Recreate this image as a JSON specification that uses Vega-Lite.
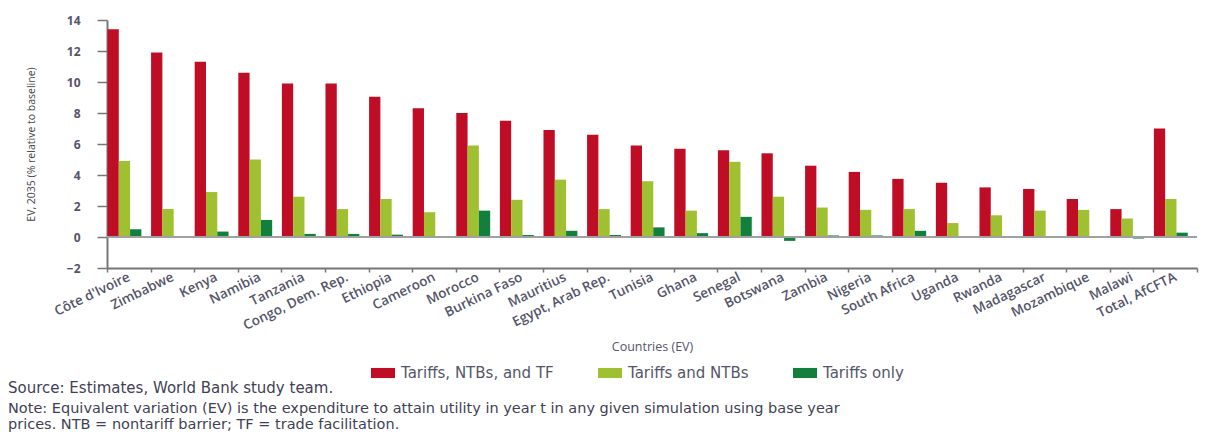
{
  "$schema": "https://vega.github.io/schema/vega-lite/v6.json",
  "width": 1090,
  "height": 248,
  "autosize": {"type": "none"},
  "padding": {"left": 107, "top": 20, "right": 8, "bottom": 169},
  "background": "white",
  "config": {"view": {"stroke": null}, "font": "Open Sans"},
  "title": {
    "text": "Source: Estimates, World Bank study team.",
    "subtitle": ["Note: Equivalent variation (EV) is the expenditure to attain utility in year t in any given simulation using base year", "prices. NTB = nontariff barrier; TF = trade facilitation."],
    "orient": "bottom",
    "anchor": "start",
    "frame": "group",
    "dx": -99,
    "offset": 0,
    "font": "DejaVu Sans",
    "fontSize": 15,
    "fontWeight": "normal",
    "color": "#3f3f55",
    "subtitleFont": "DejaVu Sans",
    "subtitleFontSize": 14.5,
    "subtitleColor": "#3f3f55",
    "subtitlePadding": 6,
    "subtitleLineHeight": 16
  },
  "data": {"values": [
    {"country": "Côte d'Ivoire", "scenario": "Tariffs, NTBs, and TF", "value": 13.4},
    {"country": "Côte d'Ivoire", "scenario": "Tariffs and NTBs", "value": 4.9},
    {"country": "Côte d'Ivoire", "scenario": "Tariffs only", "value": 0.5},
    {"country": "Zimbabwe", "scenario": "Tariffs, NTBs, and TF", "value": 11.9},
    {"country": "Zimbabwe", "scenario": "Tariffs and NTBs", "value": 1.8},
    {"country": "Zimbabwe", "scenario": "Tariffs only", "value": 0.05},
    {"country": "Kenya", "scenario": "Tariffs, NTBs, and TF", "value": 11.3},
    {"country": "Kenya", "scenario": "Tariffs and NTBs", "value": 2.9},
    {"country": "Kenya", "scenario": "Tariffs only", "value": 0.35},
    {"country": "Namibia", "scenario": "Tariffs, NTBs, and TF", "value": 10.6},
    {"country": "Namibia", "scenario": "Tariffs and NTBs", "value": 5.0},
    {"country": "Namibia", "scenario": "Tariffs only", "value": 1.1},
    {"country": "Tanzania", "scenario": "Tariffs, NTBs, and TF", "value": 9.9},
    {"country": "Tanzania", "scenario": "Tariffs and NTBs", "value": 2.6},
    {"country": "Tanzania", "scenario": "Tariffs only", "value": 0.2},
    {"country": "Congo, Dem. Rep.", "scenario": "Tariffs, NTBs, and TF", "value": 9.9},
    {"country": "Congo, Dem. Rep.", "scenario": "Tariffs and NTBs", "value": 1.8},
    {"country": "Congo, Dem. Rep.", "scenario": "Tariffs only", "value": 0.2},
    {"country": "Ethiopia", "scenario": "Tariffs, NTBs, and TF", "value": 9.05},
    {"country": "Ethiopia", "scenario": "Tariffs and NTBs", "value": 2.45},
    {"country": "Ethiopia", "scenario": "Tariffs only", "value": 0.15},
    {"country": "Cameroon", "scenario": "Tariffs, NTBs, and TF", "value": 8.3},
    {"country": "Cameroon", "scenario": "Tariffs and NTBs", "value": 1.6},
    {"country": "Cameroon", "scenario": "Tariffs only", "value": -0.05},
    {"country": "Morocco", "scenario": "Tariffs, NTBs, and TF", "value": 8.0},
    {"country": "Morocco", "scenario": "Tariffs and NTBs", "value": 5.9},
    {"country": "Morocco", "scenario": "Tariffs only", "value": 1.7},
    {"country": "Burkina Faso", "scenario": "Tariffs, NTBs, and TF", "value": 7.5},
    {"country": "Burkina Faso", "scenario": "Tariffs and NTBs", "value": 2.4},
    {"country": "Burkina Faso", "scenario": "Tariffs only", "value": 0.13},
    {"country": "Mauritius", "scenario": "Tariffs, NTBs, and TF", "value": 6.9},
    {"country": "Mauritius", "scenario": "Tariffs and NTBs", "value": 3.7},
    {"country": "Mauritius", "scenario": "Tariffs only", "value": 0.4},
    {"country": "Egypt, Arab Rep.", "scenario": "Tariffs, NTBs, and TF", "value": 6.6},
    {"country": "Egypt, Arab Rep.", "scenario": "Tariffs and NTBs", "value": 1.8},
    {"country": "Egypt, Arab Rep.", "scenario": "Tariffs only", "value": 0.13},
    {"country": "Tunisia", "scenario": "Tariffs, NTBs, and TF", "value": 5.9},
    {"country": "Tunisia", "scenario": "Tariffs and NTBs", "value": 3.6},
    {"country": "Tunisia", "scenario": "Tariffs only", "value": 0.62},
    {"country": "Ghana", "scenario": "Tariffs, NTBs, and TF", "value": 5.7},
    {"country": "Ghana", "scenario": "Tariffs and NTBs", "value": 1.7},
    {"country": "Ghana", "scenario": "Tariffs only", "value": 0.25},
    {"country": "Senegal", "scenario": "Tariffs, NTBs, and TF", "value": 5.6},
    {"country": "Senegal", "scenario": "Tariffs and NTBs", "value": 4.85},
    {"country": "Senegal", "scenario": "Tariffs only", "value": 1.3},
    {"country": "Botswana", "scenario": "Tariffs, NTBs, and TF", "value": 5.4},
    {"country": "Botswana", "scenario": "Tariffs and NTBs", "value": 2.6},
    {"country": "Botswana", "scenario": "Tariffs only", "value": -0.25},
    {"country": "Zambia", "scenario": "Tariffs, NTBs, and TF", "value": 4.6},
    {"country": "Zambia", "scenario": "Tariffs and NTBs", "value": 1.9},
    {"country": "Zambia", "scenario": "Tariffs only", "value": 0.1},
    {"country": "Nigeria", "scenario": "Tariffs, NTBs, and TF", "value": 4.2},
    {"country": "Nigeria", "scenario": "Tariffs and NTBs", "value": 1.75},
    {"country": "Nigeria", "scenario": "Tariffs only", "value": 0.1},
    {"country": "South Africa", "scenario": "Tariffs, NTBs, and TF", "value": 3.75},
    {"country": "South Africa", "scenario": "Tariffs and NTBs", "value": 1.8},
    {"country": "South Africa", "scenario": "Tariffs only", "value": 0.4},
    {"country": "Uganda", "scenario": "Tariffs, NTBs, and TF", "value": 3.5},
    {"country": "Uganda", "scenario": "Tariffs and NTBs", "value": 0.9},
    {"country": "Uganda", "scenario": "Tariffs only", "value": 0.05},
    {"country": "Rwanda", "scenario": "Tariffs, NTBs, and TF", "value": 3.2},
    {"country": "Rwanda", "scenario": "Tariffs and NTBs", "value": 1.4},
    {"country": "Rwanda", "scenario": "Tariffs only", "value": 0.05},
    {"country": "Madagascar", "scenario": "Tariffs, NTBs, and TF", "value": 3.1},
    {"country": "Madagascar", "scenario": "Tariffs and NTBs", "value": 1.7},
    {"country": "Madagascar", "scenario": "Tariffs only", "value": 0.05},
    {"country": "Mozambique", "scenario": "Tariffs, NTBs, and TF", "value": 2.45},
    {"country": "Mozambique", "scenario": "Tariffs and NTBs", "value": 1.75},
    {"country": "Mozambique", "scenario": "Tariffs only", "value": 0.05},
    {"country": "Malawi", "scenario": "Tariffs, NTBs, and TF", "value": 1.8},
    {"country": "Malawi", "scenario": "Tariffs and NTBs", "value": 1.2},
    {"country": "Malawi", "scenario": "Tariffs only", "value": -0.1},
    {"country": "Total, AfCFTA", "scenario": "Tariffs, NTBs, and TF", "value": 7.0},
    {"country": "Total, AfCFTA", "scenario": "Tariffs and NTBs", "value": 2.45},
    {"country": "Total, AfCFTA", "scenario": "Tariffs only", "value": 0.28}
  ]},
  "encoding": {
    "y": {
      "field": "value", "type": "quantitative",
      "scale": {"domain": [-2, 14], "nice": false, "zero": false},
      "axis": {
        "tickCount": 8,
        "grid": false, "labelOverlap": false,
        "domainColor": "#777", "domainWidth": 2,
        "tickColor": "#777", "tickSize": 10, "tickWidth": 1.5,
        "labelFontSize": 12, "labelFontWeight": "bold", "labelColor": "#55556a",
        "labelPadding": 17,
        "title": "EV, 2035 (% relative to baseline)",
        "titleFontSize": 10.5, "titleFontWeight": "normal", "titleColor": "#444",
        "titlePadding": 30
      }
    }
  },
  "layer": [
    {
      "mark": {"type": "bar"},
      "encoding": {
        "x": {
          "field": "country", "type": "nominal", "sort": null,
          "scale": {"paddingInner": 0, "paddingOuter": 0},
          "axis": {
            "tickBand": "extent",
            "domainColor": "#777", "domainWidth": 2,
            "tickColor": "#777", "tickSize": 4, "tickWidth": 1.5,
            "labelAngle": -26, "labelAlign": "right", "labelBaseline": "middle",
            "labelFontSize": 13.5, "labelFontWeight": 600, "labelColor": "#55556a",
            "labelPadding": 4, "labelLimit": 200, "labelOverlap": false,
            "title": "Countries (EV)", "titleFontSize": 12.5, "titleFontWeight": "normal",
            "titleColor": "#55556a", "titlePadding": 8
          }
        },
        "xOffset": {
          "field": "scenario", "type": "nominal",
          "sort": ["Tariffs, NTBs, and TF", "Tariffs and NTBs", "Tariffs only"],
          "scale": {"paddingInner": 0, "paddingOuter": 0.43, "align": 0.05}
        },
        "color": {
          "field": "scenario", "type": "nominal",
          "scale": {
            "domain": ["Tariffs, NTBs, and TF", "Tariffs and NTBs", "Tariffs only"],
            "range": ["#c00d26", "#9fc131", "#12803c"]
          },
          "legend": {
            "orient": "none", "legendX": 264, "legendY": 341,
            "direction": "horizontal", "title": null,
            "symbolType": "M-1,-0.42H1V0.42H-1Z", "symbolSize": 576,
            "symbolStrokeWidth": 0,
            "labelFont": "DejaVu Sans",
            "labelFontSize": 15, "labelColor": "#55556a", "labelLimit": 300,
            "labelOffset": 6, "columnPadding": 44
          }
        }
      }
    },
    {
      "mark": {"type": "rule", "color": "#a0a0a0", "strokeWidth": 1},
      "encoding": {"y": {"datum": 0, "type": "quantitative"}}
    }
  ]
}
